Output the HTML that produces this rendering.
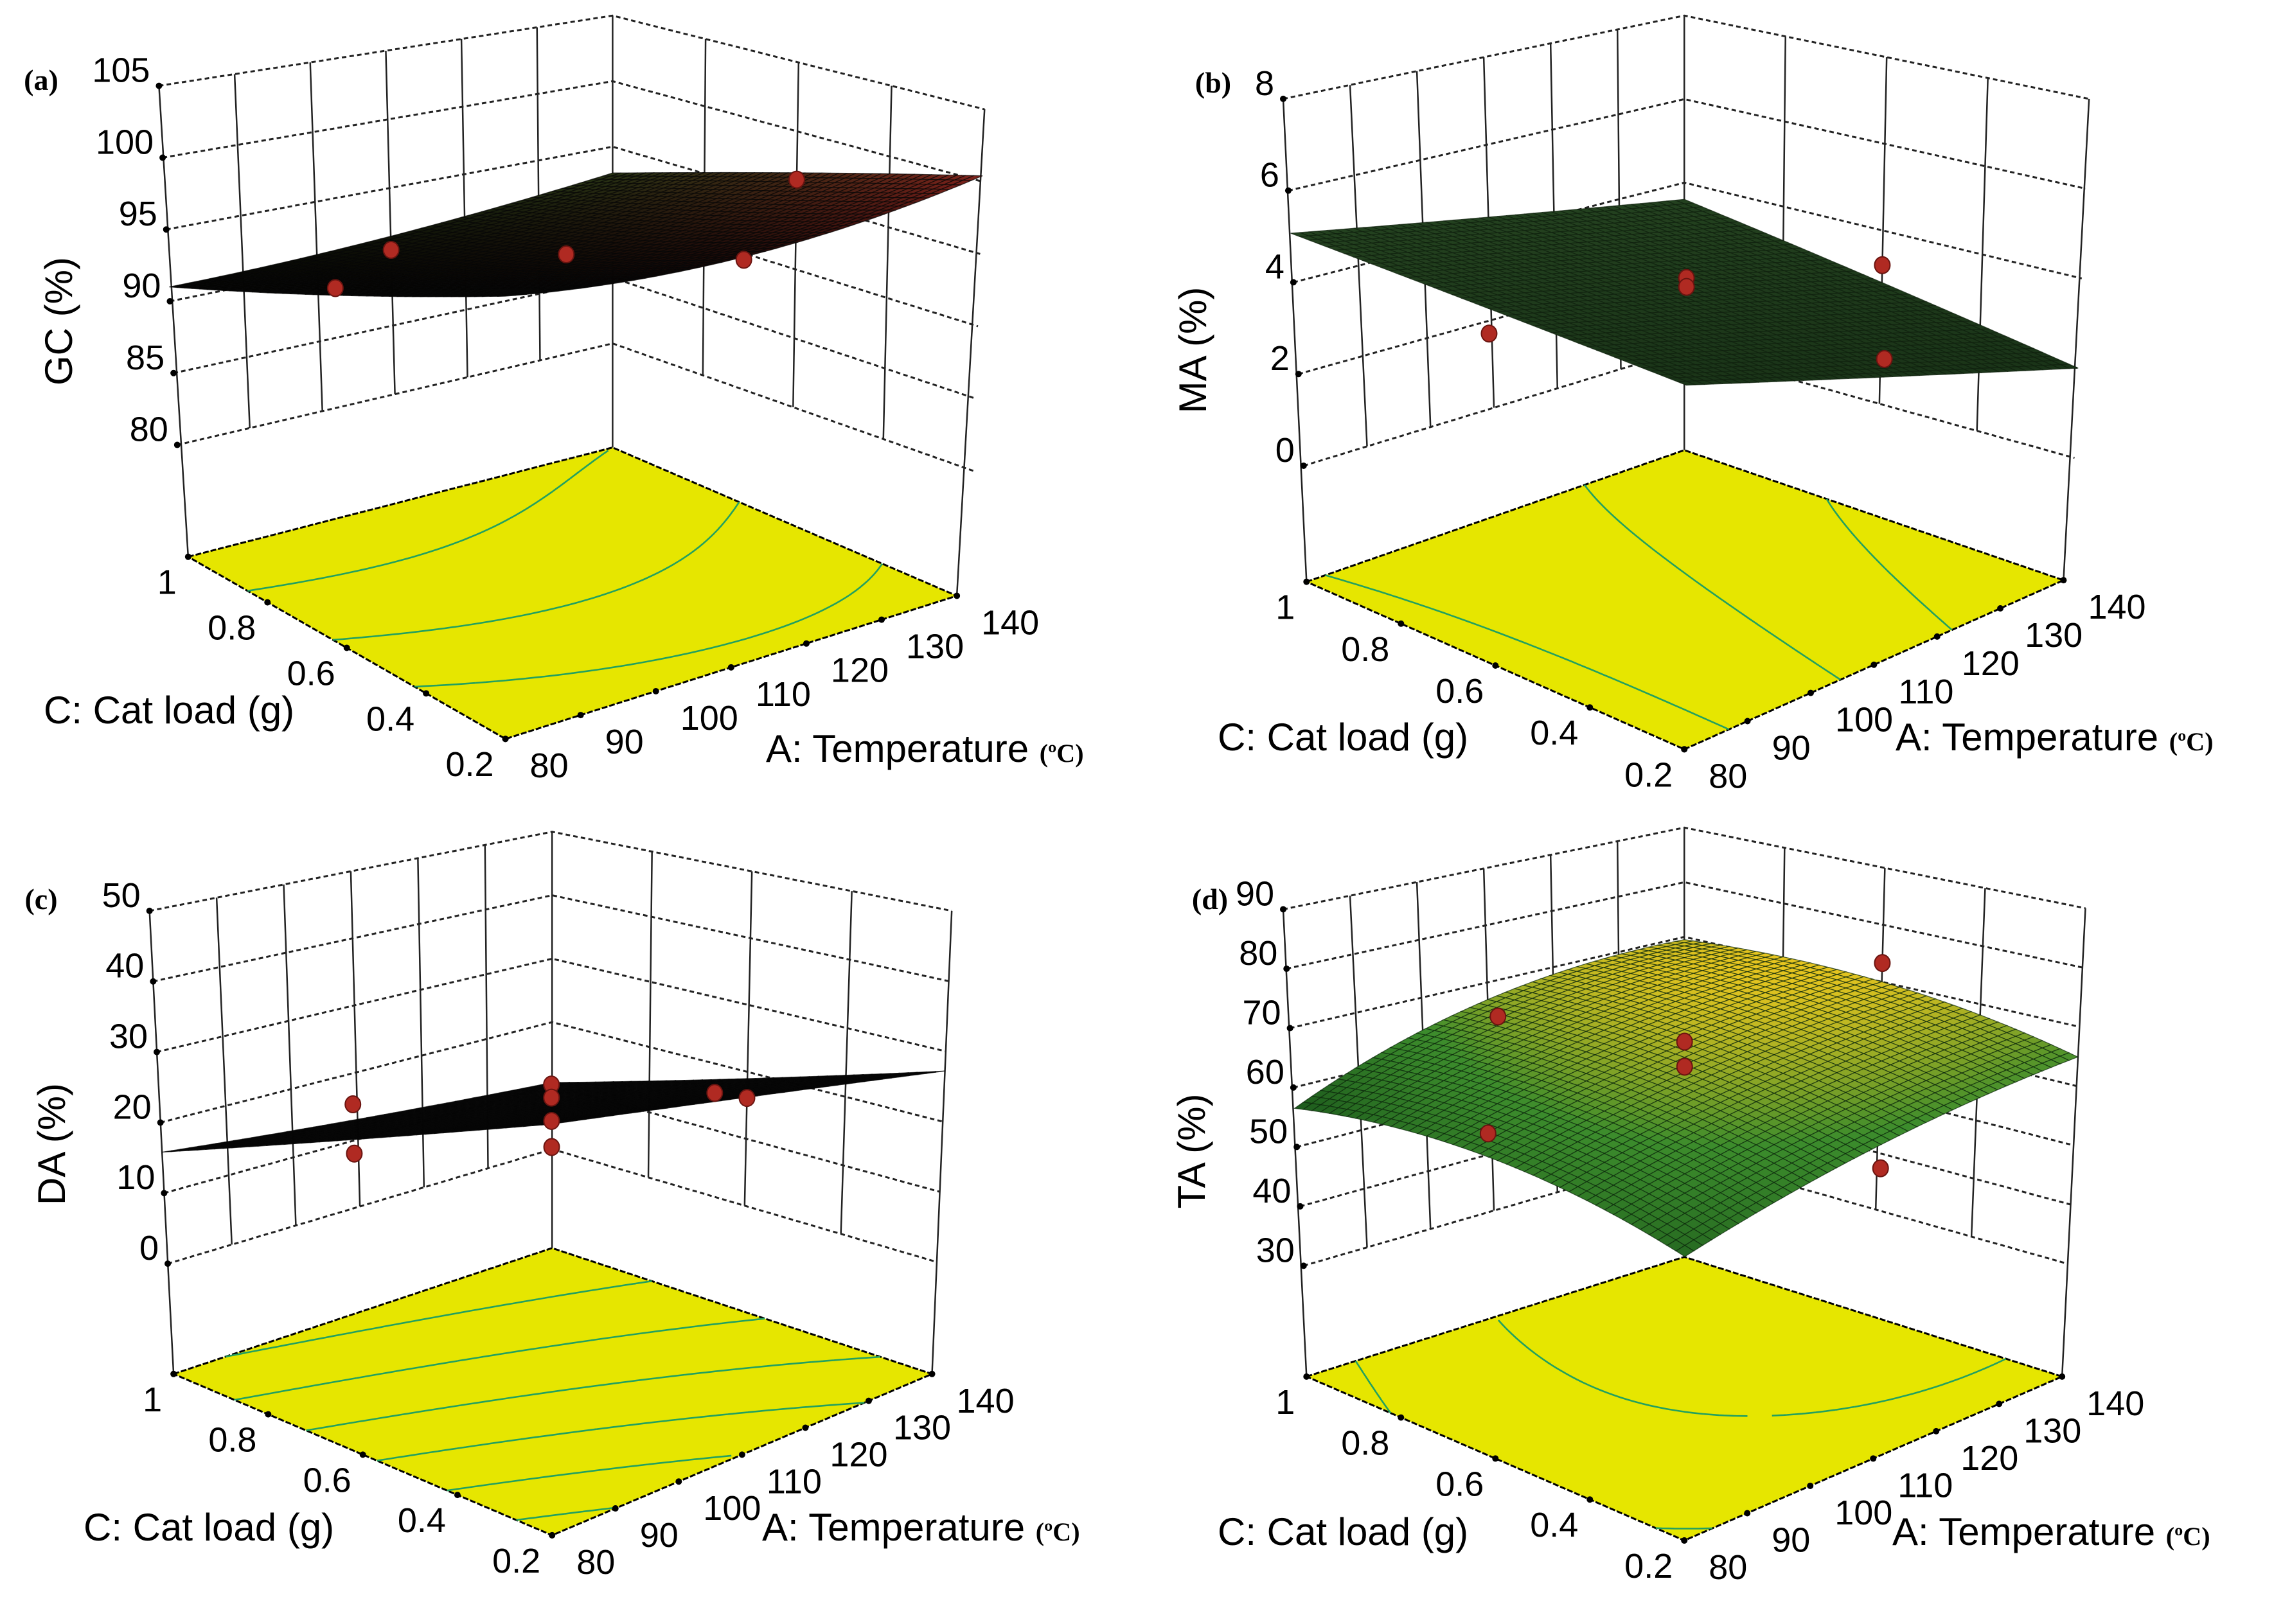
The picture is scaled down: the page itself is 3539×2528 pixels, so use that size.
<!DOCTYPE html>
<html><head><meta charset="utf-8"><title>Response surfaces</title>
<style>html,body{margin:0;padding:0;background:#fff}svg{display:block}</style></head>
<body>
<svg id="fig" xmlns="http://www.w3.org/2000/svg" width="3539" height="2528" viewBox="0 0 3539 2528">
<rect width="3539" height="2528" fill="#fff"/>
</svg>
<script>
// ---- data ----
const aTicks = [80, 90, 100, 110, 120, 130, 140];
const cTicks = [0.2, 0.4, 0.6, 0.8, 1];
const aGridVals = [80, 110, 140];
const cGridVals = [1, 0.6, 0.2];

const gcZTicks = [80, 85, 90, 95, 100, 105];
const gcGrid = [[91, 91.5, 93], [96.5, 95.3, 97], [102.5, 100, 100.4]];
const gcPoints = [[80, 0.6, 97], [110, 1, 90.5], [110, 0.6, 95.3], [110, 0.2, 99.8], [140, 0.6, 96.5]];
const gcLevels = [93, 96, 99];

const maZTicks = [0, 2, 4, 6, 8];
const maGrid = [[5.07, 4.35, 3.6], [5.25, 4.1, 2.8], [5.4, 3.7, 2.0]];
const maPoints = [[80, 0.6, 4.7], [110, 0.6, 4.45], [110, 0.6, 4.25], [140, 0.6, 3.2], [110, 0.2, 4.1]];
const maLevels = [3, 4, 5];

const daZTicks = [0, 10, 20, 30, 40, 50];
const daGrid = [[15.8, 13, 10.5], [29, 24, 19], [42.6, 35, 27.2]];
const daPoints = [[80, 0.6, 34], [80, 0.6, 27], [110, 0.6, 27.7], [110, 0.6, 25.8], [110, 0.6, 22.4], [110, 0.6, 18.6], [140, 0.6, 16.1], [135, 0.6, 18.5]];
const daLevels = [15, 20, 25, 30, 35, 40];

const taZTicks = [30, 40, 50, 60, 70, 80, 90];
const taGrid = [[56.5, 67, 69.5], [62, 68, 70], [59, 64, 64.9]];
const taPoints = [[82, 0.6, 85], [80, 0.6, 66], [110, 0.6, 70.7], [110, 0.6, 66.4], [140, 0.6, 73.3], [110, 0.2, 60]];
const taLevels = [60, 67];

// ---- layout (screen geometry, not data) ----
const NS = 'http://www.w3.org/2000/svg';
const svg = document.getElementById('fig');
const SX = 1.135, SY = 0.81;
const panels = [
  {id: 'gc', tag: '(a)', title: 'GC (%)', off: [0, 0], zTicks: gcZTicks, grid: gcGrid, points: gcPoints, levels: gcLevels,
   L: [[218,165],[243,855],[258,1070]], B: [[840,30],[840,660],[840,860]], R: [[1350,210],[1335,905],[1312,1145]], F: [693,1420],
   tagPos: [64,125], titlePos: [112,500], cTitle: [68,1126], aTitle: [1192,1186], scheme: 'a'},
  {id: 'ma', tag: '(b)', title: 'MA (%)', off: [1770, 0], zTicks: maZTicks, grid: maGrid, points: maPoints, levels: maLevels,
   L: [[200,190],[228,895],[232,1118]], B: [[750,30],[750,672],[750,865]], R: [[1305,190],[1285,880],[1270,1115]], F: [750,1440],
   tagPos: [1888,129], titlePos: [1877,545], cTitle: [1895,1168], aTitle: [2950,1168], scheme: 'b'},
  {id: 'da', tag: '(c)', title: 'DA (%)', off: [0, 1264], zTicks: daZTicks, grid: daGrid, points: daPoints, levels: daLevels,
   L: [[205,190],[230,868],[238,1080]], B: [[757,38],[757,648],[757,838]], R: [[1305,190],[1285,865],[1278,1080]], F: [757,1390],
   tagPos: [64,1400], titlePos: [101,1781], cTitle: [130,2398], aTitle: [1186,2398], scheme: 'c'},
  {id: 'ta', tag: '(d)', title: 'TA (%)', off: [1770, 1264], zTicks: taZTicks, grid: taGrid, points: taPoints, levels: taLevels,
   L: [[200,187],[228,872],[232,1085]], B: [[750,30],[750,660],[750,855]], R: [[1300,185],[1275,868],[1268,1085]], F: [750,1400],
   tagPos: [1883,1400], titlePos: [1875,1792], cTitle: [1895,2405], aTitle: [2945,2405], scheme: 'd'}
];

function mk(tag, attrs, parent) {
  const el = document.createElementNS(NS, tag);
  for (const k in attrs) el.setAttribute(k, attrs[k]);
  parent.appendChild(el);
  return el;
}
function lerp(p, q, t) { return [p[0] + (q[0] - p[0]) * t, p[1] + (q[1] - p[1]) * t]; }
function hex(c) { return [parseInt(c.slice(1,3),16), parseInt(c.slice(3,5),16), parseInt(c.slice(5,7),16)]; }
function mixc(c1, c2, t) { const a = hex(c1), b = hex(c2); return 'rgb(' + a.map((v,i)=>Math.round(v+(b[i]-v)*t)).join(',') + ')'; }
function mixrgb(a, b, t) { return a.map((v,i)=>v+(b[i]-v)*t); }

panels.forEach(P => {
  const tr = p => [P.off[0] + p[0]*SX, P.off[1] + p[1]*SY];
  const col = {};
  ['L','B','R'].forEach(k => col[k] = {top: tr(P[k][0]), low: tr(P[k][1]), floor: tr(P[k][2])});
  const Ff = tr(P.F);
  const dTop = [((col.L.top[0]-col.L.floor[0]) + (col.R.top[0]-col.R.floor[0]))/2, ((col.L.top[1]-col.L.floor[1]) + (col.R.top[1]-col.R.floor[1]))/2];
  const dLow = [((col.L.low[0]-col.L.floor[0]) + (col.R.low[0]-col.R.floor[0]))/2, ((col.L.low[1]-col.L.floor[1]) + (col.R.low[1]-col.R.floor[1]))/2];
  col.F = {floor: Ff, top: [Ff[0]+dTop[0], Ff[1]+dTop[1]], low: [Ff[0]+dLow[0], Ff[1]+dLow[1]]};
  const zmin = P.zTicks[0], zmax = P.zTicks[P.zTicks.length-1];
  const bil = (key, a, c) => {
    const f = col.F[key], r = col.R[key], l = col.L[key], b = col.B[key];
    const p1 = lerp(f, r, a), p2 = lerp(l, b, a);
    return lerp(p1, p2, c);
  };
  const proj = (A, C, z) => {
    const a = (A-80)/60, c = (C-0.2)/0.8;
    const top = bil('top', a, c), low = bil('low', a, c);
    return lerp(low, top, (z - zmin)/(zmax - zmin));
  };
  const floorPt = (A, C) => bil('floor', (A-80)/60, (C-0.2)/0.8);
  const basis = u => [2*(u-0.5)*(u-1), -4*u*(u-1), 2*u*(u-0.5)];
  const zf = (A, C) => {
    const bu = basis((A-80)/60), bv = basis((1-C)/0.8);
    let s = 0;
    for (let i = 0; i < 3; i++) for (let j = 0; j < 3; j++) s += bv[i]*bu[j]*P.grid[i][j];
    return s;
  };
  const pts = arr => arr.map(p => p[0].toFixed(1)+','+p[1].toFixed(1)).join(' ');

  const g = mk('g', {}, svg);
  
  

  const floor = mk('polygon', {points: pts([col.L.floor, col.B.floor, col.R.floor, col.F.floor]), fill: '#e6e600', stroke: '#000', 'stroke-width': 3, 'stroke-dasharray': '9 3'}, g);
  
  

  const cg = mk('g', {stroke: '#22a060', 'stroke-width': 2.6, fill: 'none'}, g);
  
  
  const N = 60;
  const val = [];
  for (let i = 0; i <= N; i++) { val.push([]); for (let j = 0; j <= N; j++) val[i].push(zf(80 + 60*j/N, 0.2 + 0.8*i/N)); }
  P.levels.forEach(lv => {
    let d = '';
    for (let i = 0; i < N; i++) for (let j = 0; j < N; j++) {
      const corners = [[i,j],[i,j+1],[i+1,j+1],[i+1,j]];
      const cross = [];
      for (let k = 0; k < 4; k++) {
        const p = corners[k], q = corners[(k+1)%4];
        const v1 = val[p[0]][p[1]], v2 = val[q[0]][q[1]];
        if ((v1 - lv) * (v2 - lv) < 0) {
          const t = (lv - v1)/(v2 - v1);
          const ii = p[0] + (q[0]-p[0])*t, jj = p[1] + (q[1]-p[1])*t;
          cross.push(floorPt(80 + 60*jj/N, 0.2 + 0.8*ii/N));
        }
      }
      for (let k = 0; k + 1 < cross.length; k += 2)
        d += 'M' + cross[k][0].toFixed(1) + ',' + cross[k][1].toFixed(1) + 'L' + cross[k+1][0].toFixed(1) + ',' + cross[k+1][1].toFixed(1);
    }
    const path = mk('path', {d: d}, cg);
    
    
  });

  const wg = mk('g', {fill: 'none'}, g);
  
  
  P.zTicks.forEach(z => {
    const pl = mk('polyline', {points: pts([proj(80,1,z), proj(140,1,z), proj(140,0.2,z)]), stroke: '#222', 'stroke-width': 3, 'stroke-dasharray': '7 5'}, wg);
    
    
  });
  aTicks.slice(1, -1).forEach(A => {
    const p1 = proj(A,1,zmax), p2 = proj(A,1,zmin);
    const ln = mk('line', {x1: p1[0], y1: p1[1], x2: p2[0], y2: p2[1], stroke: '#222', 'stroke-width': 2.5}, wg);
    
    
  });
  cTicks.slice(1, -1).forEach(C => {
    const p1 = proj(140,C,zmax), p2 = proj(140,C,zmin);
    const ln = mk('line', {x1: p1[0], y1: p1[1], x2: p2[0], y2: p2[1], stroke: '#222', 'stroke-width': 2.5}, wg);
    
    
  });
  ['L','B','R'].forEach(k => {
    const ln = mk('line', {x1: col[k].top[0], y1: col[k].top[1], x2: col[k].floor[0], y2: col[k].floor[1], stroke: '#222', 'stroke-width': 2.5}, wg);
    
    
  });

  const tg = mk('g', {'font-family': '"Liberation Sans", sans-serif', 'font-size': 54, fill: '#000'}, g);
  
  
  P.zTicks.forEach(z => {
    const p = proj(80,1,z);
    const c = mk('circle', {cx: p[0], cy: p[1], r: 5}, tg);
    
    
    const t = mk('text', {x: p[0]-14, y: p[1]-6, 'text-anchor': 'end'}, tg);
    t.textContent = z;
    
    
  });
  cTicks.forEach(C => {
    const p = floorPt(80, C);
    const c = mk('circle', {cx: p[0], cy: p[1], r: 5}, tg);
    
    
    const t = mk('text', {x: p[0]-18, y: p[1]+58, 'text-anchor': 'end'}, tg);
    t.textContent = C;
    
    
  });
  aTicks.forEach(A => {
    const p = floorPt(A, 0.2);
    const c = mk('circle', {cx: p[0], cy: p[1], r: 5}, tg);
    
    
    const t = mk('text', {x: p[0]+38, y: p[1]+60, 'text-anchor': 'start'}, tg);
    t.textContent = A;
    
    
  });

  const sg = mk('g', {}, g);
  
  
  const M = 44;
  const gmin = Math.min(...P.grid.flat()), gmax = Math.max(...P.grid.flat());
  const quads = [];
  for (let i = 0; i < M; i++) for (let j = 0; j < M; j++) quads.push([i, j]);
  quads.sort((q1, q2) => (q2[0] + q2[1]) - (q1[0] + q1[1]));
  quads.forEach(([i, j]) => {
    const A0 = 80 + 60*j/M, A1 = 80 + 60*(j+1)/M, C0 = 0.2 + 0.8*i/M, C1 = 0.2 + 0.8*(i+1)/M;
    const corners = [[A0,C0],[A1,C0],[A1,C1],[A0,C1]].map(([A,C]) => proj(A, C, zf(A, C)));
    const Am = (A0+A1)/2, Cm = (C0+C1)/2;
    const zn = (zf(Am, Cm) - gmin)/(gmax - gmin);
    const a = (Am-80)/60, c = (Cm-0.2)/0.8;
    let fill, stroke;
    if (P.scheme === 'a') {
      const hue = mixrgb([150,40,32], [60,80,30], c);
      const br = Math.pow(a, 2.2) * (0.85 - 0.45*c) + 0.25*Math.pow(c, 3)*a;
      fill = 'rgb(' + mixrgb([4,4,3], hue, Math.min(1, br)).map(Math.round).join(',') + ')';
      stroke = '#050505';
    } else if (P.scheme === 'b') {
      fill = mixc('#1a3418', '#2a4a24', c*0.6);
      stroke = '#0e200d';
    } else if (P.scheme === 'c') {
      fill = '#070707'; stroke = '#050505';
    } else {
      fill = zn < 0.6 ? mixc('#1c5a1c', '#3c8c2c', zn/0.6) : mixc('#3c8c2c', '#d8c020', (zn-0.6)/0.4);
      stroke = '#0c280c';
    }
    const q = mk('polygon', {points: pts(corners), fill: fill, stroke: stroke, 'stroke-width': 1.3, 'stroke-opacity': 0.7}, sg);
    
    
  });

  const dg = mk('g', {fill: '#b02a22', stroke: '#6a1410', 'stroke-width': 2}, g);
  
  
  P.points.forEach(([A, C, z]) => {
    const p = proj(A, C, z);
    const e = mk('ellipse', {cx: p[0], cy: p[1], rx: 12, ry: 13}, dg);
    
    
  });

  const tag = mk('text', {x: P.tagPos[0], y: P.tagPos[1] + 15, 'text-anchor': 'middle', 'font-family': '"Liberation Serif", serif', 'font-weight': 'bold', 'font-size': 46}, g);
  tag.textContent = P.tag;
  
  
  const yt = mk('text', {x: P.titlePos[0], y: P.titlePos[1], 'text-anchor': 'middle', 'font-family': '"Liberation Sans", sans-serif', 'font-size': 60, transform: 'rotate(-90 ' + P.titlePos[0] + ' ' + P.titlePos[1] + ')'}, g);
  yt.textContent = P.title;
  
  
  const ct = mk('text', {x: P.cTitle[0], y: P.cTitle[1], 'font-family': '"Liberation Sans", sans-serif', 'font-size': 60}, g);
  ct.textContent = 'C: Cat load (g)';
  
  
  const at = mk('text', {x: P.aTitle[0], y: P.aTitle[1], 'font-family': '"Liberation Sans", sans-serif', 'font-size': 60}, g);
  at.textContent = 'A: Temperature ';
  
  
  const unit = mk('tspan', {'font-family': '"Liberation Serif", serif', 'font-weight': 'bold', 'font-size': 40}, at);
  unit.textContent = '(ºC)';
  
  
});
</script>
</body></html>
